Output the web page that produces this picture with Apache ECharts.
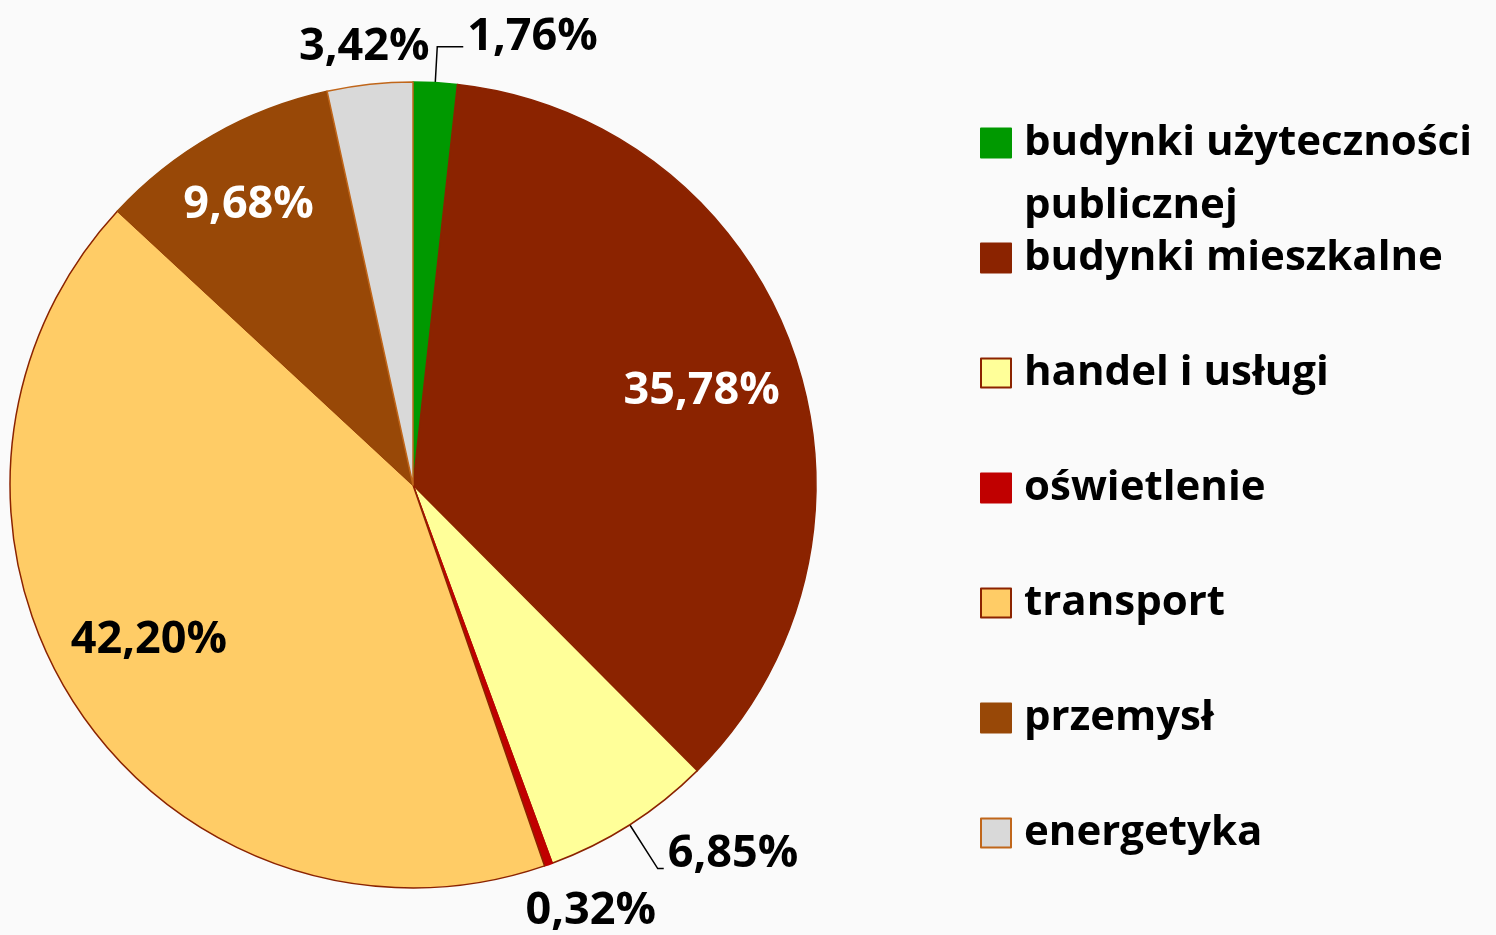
<!DOCTYPE html>
<html>
<head>
<meta charset="utf-8">
<script src="https://cdn.jsdelivr.net/npm/echarts@6/dist/echarts.min.js"></script>
<style>
html, body { margin: 0; padding: 0; background: #fafafa; }
#chart { width: 1496px; height: 935px; }
</style>
</head>
<body>
<div id="chart"></div>
<script>
var names = ['budynki użyteczności publicznej', 'budynki mieszkalne', 'handel i usługi', 'oświetlenie', 'transport', 'przemysł', 'energetyka'];
var values = [1.76, 35.78, 6.85, 0.32, 42.20, 9.68, 3.42];
var colors = ['#009900', '#8B2300', '#FFFF99', '#C00000', '#FFCC66', '#984807', '#D9D9D9'];
var borders = ['#009900', '#8B2300', '#8B2300', '#C00000', '#8B2300', '#984807', '#C0661A'];

var FONT = 'Open Sans';
var R = 403;
var CENTER = [413, 485];

function fmt(v) {
	return v.toFixed(2).replace('.', ',') + '%';
}

// labels with a leader line sit on the main series (rich padding lifts text above line end)
var lineLabels = {
	0: { length: 36, length2: 26, lift: 'up18' },
	2: { length: 52, length2: 6, lift: 'up28' }
};
// labels inside the slices (white or black)
var innerLabels = { 1: '#ffffff', 4: '#000000', 5: '#ffffff' };
// labels outside without a leader
var outerLabels = { 3: '#000000', 6: '#000000' };
// small nudges so the labels sit where the original put them
var nudges = { 1: [-9, 10], 4: [0, -17], 5: [-8, -6], 3: [25, -2], 6: [0, 14] };

function mainData() {
	var list = [];
	for(var i = 0; i < values.length; i++) {
		var item = {
			name: names[i],
			value: values[i],
			itemStyle: { color: colors[i], borderColor: borders[i] },
			label: { show: false },
			labelLine: { show: false }
		};
		if(lineLabels[i]) {
			item.label = { show: true };
			item.labelLine = { show: true, length: lineLabels[i].length, length2: lineLabels[i].length2 };
		}
		list.push(item);
	}
	return list;
}

function labelData(map) {
	var list = [];
	for(var i = 0; i < values.length; i++) {
		list.push({
			name: names[i],
			value: values[i],
			label: { show: !!map[i], color: map[i] || '#000' }
		});
	}
	return list;
}

function legendData() {
	var list = [];
	for(var i = 0; i < names.length; i++) {
		list.push({ name: names[i], itemStyle: { color: colors[i], borderColor: borders[i], borderWidth: 2 } });
	}
	return list;
}

function nudge(params) {
	var n = nudges[params.dataIndex];
	if(n) {
		return { dx: n[0], dy: n[1] };
	}
}

var labelRich = {
	up18: { fontFamily: FONT, fontWeight: 'bold', fontSize: 45, color: '#000', padding: [0, 0, 18, 0] },
	up28: { fontFamily: FONT, fontWeight: 'bold', fontSize: 45, color: '#000', padding: [0, 0, 28, 0] }
};

var option = {
	backgroundColor: '#fafafa',
	animation: false,
	legend: {
		orient: 'vertical',
		left: 980,
		top: 121,
		padding: 0,
		itemWidth: 30,
		itemHeight: 29,
		itemGap: 71,
		icon: 'rect',
		data: legendData(),
		formatter: function(name) {
			if(name == names[0]) {
				return 'budynki użyteczności';
			}
			return name;
		},
		textStyle: {
			fontFamily: FONT,
			fontWeight: 'bold',
			fontSize: 42,
			lineHeight: 44,
			color: '#000',
			padding: [0, 0, 0, 8]
		}
	},
	graphic: [{
		type: 'text',
		left: 1024,
		top: 185,
		style: {
			text: 'publicznej',
			fontFamily: FONT,
			fontWeight: 'bold',
			fontSize: 42,
			fill: '#000'
		}
	}],
	series: [{
		name: 'main',
		type: 'pie',
		center: CENTER,
		radius: [0, R],
		startAngle: 90,
		clockwise: true,
		avoidLabelOverlap: false,
		itemStyle: { borderWidth: 1.5 },
		label: {
			position: 'outside',
			formatter: function(p) {
				var cfg = lineLabels[p.dataIndex];
				if(!cfg) {
					return '';
				}
				return '{' + cfg.lift + '|' + fmt(p.value) + '}';
			},
			rich: labelRich,
			color: '#000',
			fontFamily: FONT,
			fontWeight: 'bold',
			fontSize: 45,
			distanceToLabelLine: 4
		},
		labelLine: { lineStyle: { color: '#000', width: 1.5 } },
		emphasis: { disabled: true },
		data: mainData()
	}, {
		name: 'inner',
		type: 'pie',
		silent: true,
		legendHoverLink: false,
		center: CENTER,
		radius: [0, R * 1.55],
		startAngle: 90,
		avoidLabelOverlap: false,
		itemStyle: { color: 'rgba(0,0,0,0)', borderWidth: 0 },
		label: {
			position: 'inside',
			formatter: function(p) { return fmt(p.value); },
			fontFamily: FONT,
			fontWeight: 'bold',
			fontSize: 45
		},
		labelLine: { show: false },
		labelLayout: nudge,
		data: labelData(innerLabels)
	}, {
		name: 'outer',
		type: 'pie',
		silent: true,
		legendHoverLink: false,
		center: CENTER,
		radius: [0, R * 2.24],
		startAngle: 90,
		avoidLabelOverlap: false,
		itemStyle: { color: 'rgba(0,0,0,0)', borderWidth: 0 },
		label: {
			position: 'inside',
			formatter: function(p) { return fmt(p.value); },
			fontFamily: FONT,
			fontWeight: 'bold',
			fontSize: 45
		},
		labelLine: { show: false },
		labelLayout: nudge,
		data: labelData(outerLabels)
	}]
};

echarts.init(document.getElementById('chart')).setOption(option);
</script>
</body>
</html>
